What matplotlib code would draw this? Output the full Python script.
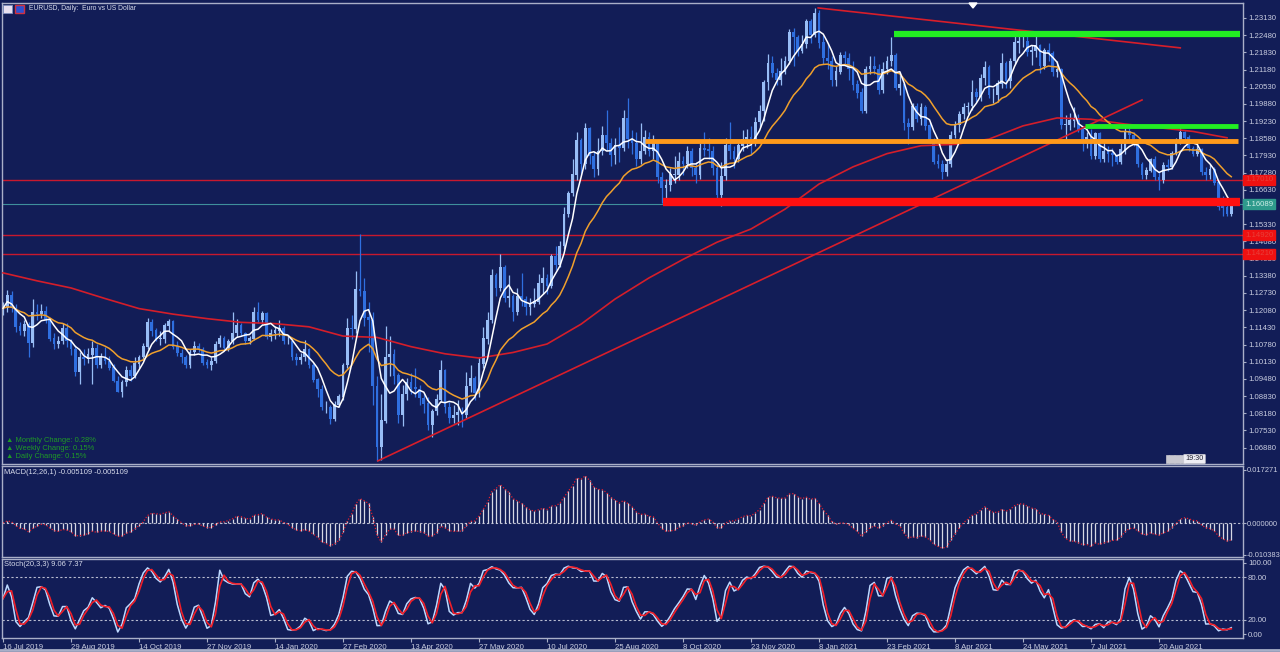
import matplotlib
matplotlib.use('Agg')
import matplotlib.pyplot as plt
import matplotlib.patches as mpatches
import numpy as np
import pandas as pd

plt.rcParams['font.family'] = ['Liberation Sans', 'DejaVu Sans']

# EURUSD daily chart, resampled to 2-day bars
close = [
    1.1215, 1.1265, 1.1215, 1.1145, 1.1130, 1.1155, 1.1085, 1.1200, 1.1195, 1.1205, 1.1170, 1.1100, 1.1080, 1.1090, 1.1140, 1.1090,
    1.1060, 1.0975, 1.1030, 1.1025, 1.1040, 1.1065, 1.1000, 1.1030, 1.1015, 1.0990, 1.0940, 1.0900, 1.0935, 1.0980, 1.0960, 1.1005,
    1.1030, 1.1070, 1.1160, 1.1130, 1.1100, 1.1100, 1.1150, 1.1165, 1.1070, 1.1045, 1.1030, 1.1000, 1.1050, 1.1070, 1.1060, 1.1010,
    1.1000, 1.1015, 1.1080, 1.1100, 1.1065, 1.1090, 1.1120, 1.1150, 1.1120, 1.1090, 1.1100, 1.1200, 1.1170, 1.1195, 1.1105, 1.1120,
    1.1130, 1.1140, 1.1090, 1.1090, 1.1030, 1.1020, 1.1030, 1.1060, 1.1000, 1.0945, 1.0910, 1.0840, 1.0840, 1.0795, 1.0850, 1.0880,
    1.1000, 1.1140, 1.1135, 1.1285, 1.1280, 1.1180, 1.1170, 1.0920, 1.0690, 1.0790, 1.1030, 1.1040, 1.0960, 1.0810, 1.0890, 1.0935,
    1.0915, 1.0910, 1.0875, 1.0855, 1.0775, 1.0825, 1.0870, 1.0980, 1.0840, 1.0800, 1.0810, 1.0820, 1.0810, 1.0920, 1.0950, 1.0895,
    1.1005, 1.1100, 1.1170, 1.1340, 1.1290, 1.1370, 1.1255, 1.1260, 1.1200, 1.1260, 1.1250, 1.1220, 1.1230, 1.1240, 1.1310, 1.1330,
    1.1300, 1.1410, 1.1380, 1.1450, 1.1570, 1.1650, 1.1720, 1.1850, 1.1760, 1.1895, 1.1790, 1.1740, 1.1810, 1.1870, 1.1840, 1.1795,
    1.1830, 1.1820, 1.1935, 1.1855, 1.1840, 1.1780, 1.1810, 1.1860, 1.1810, 1.1840, 1.1710, 1.1670, 1.1680, 1.1720, 1.1720, 1.1770,
    1.1760, 1.1810, 1.1745, 1.1720, 1.1820, 1.1815, 1.1810, 1.1745, 1.1645, 1.1715, 1.1830, 1.1810, 1.1780, 1.1830, 1.1855, 1.1860,
    1.1840, 1.1920, 1.1960, 1.2070, 1.2140, 1.2105, 1.2080, 1.2110, 1.2150, 1.2260, 1.2240, 1.2190, 1.2215, 1.2300, 1.2250, 1.2330,
    1.2220, 1.2160, 1.2150, 1.2080, 1.2110, 1.2170, 1.2160, 1.2120, 1.2060, 1.2030, 1.1960, 1.2120, 1.2130, 1.2120, 1.2040, 1.2120,
    1.2150, 1.2170, 1.2050, 1.2060, 1.1915, 1.1900, 1.1980, 1.1930, 1.1975, 1.1905, 1.1850, 1.1770, 1.1760, 1.1730, 1.1760, 1.1870,
    1.1910, 1.1950, 1.1975, 1.1980, 1.2030, 1.2015, 1.2085, 1.2125, 1.2020, 1.2020, 1.2065, 1.2140, 1.2075, 1.2150, 1.2220, 1.2225,
    1.2225, 1.2185, 1.2190, 1.2210, 1.2130, 1.2190, 1.2180, 1.2110, 1.2120, 1.1910, 1.1910, 1.1925, 1.1935, 1.1890, 1.1850, 1.1860,
    1.1790, 1.1875, 1.1780, 1.1810, 1.1800, 1.1795, 1.1770, 1.1815, 1.1885, 1.1870, 1.1835, 1.1760, 1.1720, 1.1735, 1.1780, 1.1710,
    1.1700, 1.1755, 1.1750, 1.1800, 1.1840, 1.1880, 1.1860, 1.1820, 1.1800, 1.1815, 1.1730, 1.1720, 1.1740, 1.1690, 1.1600, 1.1595, 1.1570, 1.1609,
]
high = [
    1.1240, 1.1285, 1.1280, 1.1230, 1.1165, 1.1170, 1.1165, 1.1250, 1.1230, 1.1230, 1.1225, 1.1180, 1.1120, 1.1110, 1.1160, 1.1160,
    1.1100, 1.1075, 1.1050, 1.1060, 1.1065, 1.1090, 1.1080, 1.1045, 1.1070, 1.1035, 1.1005, 1.0960, 1.0945, 1.0995, 1.1000, 1.1030,
    1.1040, 1.1085, 1.1180, 1.1175, 1.1140, 1.1130, 1.1160, 1.1175, 1.1170, 1.1090, 1.1060, 1.1040, 1.1060, 1.1090, 1.1085, 1.1070,
    1.1025, 1.1030, 1.1090, 1.1115, 1.1110, 1.1100, 1.1200, 1.1175, 1.1160, 1.1125, 1.1110, 1.1220, 1.1240, 1.1205, 1.1200, 1.1135,
    1.1150, 1.1170, 1.1150, 1.1115, 1.1100, 1.1045, 1.1045, 1.1095, 1.1065, 1.1010, 1.0950, 1.0925, 1.0865, 1.0850, 1.0865, 1.0890,
    1.1010, 1.1180, 1.1190, 1.1355, 1.1495, 1.1330, 1.1240, 1.1200, 1.0960, 1.0890, 1.1147, 1.1110, 1.1060, 1.0970, 1.0925, 1.0950,
    1.0970, 1.0990, 1.0925, 1.0895, 1.0880, 1.0835, 1.0890, 1.1019, 1.0985, 1.0860, 1.0850, 1.0870, 1.0840, 1.0975, 1.1000, 1.0960,
    1.1030, 1.1145, 1.1200, 1.1365, 1.1350, 1.1422, 1.1380, 1.1340, 1.1270, 1.1290, 1.1350, 1.1260, 1.1255, 1.1290, 1.1345, 1.1370,
    1.1345, 1.1420, 1.1450, 1.1470, 1.1600, 1.1660, 1.1780, 1.1880, 1.1860, 1.1915, 1.1900, 1.1810, 1.1860, 1.1905, 1.1965, 1.1860,
    1.1860, 1.1900, 1.1965, 1.2011, 1.1890, 1.1880, 1.1915, 1.1890, 1.1880, 1.1870, 1.1850, 1.1730, 1.1705, 1.1745, 1.1790, 1.1805,
    1.1790, 1.1830, 1.1820, 1.1770, 1.1840, 1.1880, 1.1860, 1.1830, 1.1760, 1.1770, 1.1860, 1.1920, 1.1830, 1.1840, 1.1890, 1.1895,
    1.1905, 1.1940, 1.1985, 1.2080, 1.2175, 1.2170, 1.2125, 1.2160, 1.2170, 1.2273, 1.2275, 1.2250, 1.2250, 1.2310, 1.2310, 1.2349,
    1.2345, 1.2250, 1.2220, 1.2170, 1.2130, 1.2185, 1.2190, 1.2180, 1.2150, 1.2080, 1.2050, 1.2130, 1.2170, 1.2170, 1.2140, 1.2145,
    1.2170, 1.2243, 1.2180, 1.2110, 1.2070, 1.1935, 1.1990, 1.1990, 1.1990, 1.1985, 1.1920, 1.1860, 1.1800, 1.1775, 1.1780, 1.1885,
    1.1925, 1.1960, 1.1990, 1.1995, 1.2080, 1.2050, 1.2100, 1.2150, 1.2135, 1.2050, 1.2080, 1.2180, 1.2150, 1.2160, 1.2245, 1.2250,
    1.2266, 1.2260, 1.2210, 1.2255, 1.2215, 1.2200, 1.2220, 1.2190, 1.2150, 1.2125, 1.1945, 1.1955, 1.1975, 1.1950, 1.1900, 1.1880,
    1.1895, 1.1880, 1.1880, 1.1850, 1.1830, 1.1820, 1.1800, 1.1840, 1.1909, 1.1900, 1.1880, 1.1850, 1.1770, 1.1750, 1.1785, 1.1790,
    1.1730, 1.1770, 1.1780, 1.1810, 1.1860, 1.1909, 1.1885, 1.1870, 1.1830, 1.1850, 1.1820, 1.1750, 1.1760, 1.1750, 1.1700, 1.1640, 1.1620, 1.1625,
]
low = [
    1.1190, 1.1200, 1.1200, 1.1125, 1.1115, 1.1110, 1.1030, 1.1070, 1.1170, 1.1180, 1.1160, 1.1090, 1.1060, 1.1065, 1.1080, 1.1070,
    1.1040, 1.0960, 1.0930, 1.1000, 1.1010, 1.0930, 1.0990, 1.0990, 1.1005, 1.0980, 1.0935, 1.0900, 1.0880, 1.0920, 1.0940, 1.0950,
    1.0990, 1.1020, 1.1060, 1.1110, 1.1090, 1.1075, 1.1085, 1.1130, 1.1060, 1.1035, 1.1010, 1.0990, 1.0990, 1.1040, 1.1050, 1.1000,
    1.0990, 1.0980, 1.1010, 1.1070, 1.1060, 1.1055, 1.1080, 1.1105, 1.1110, 1.1080, 1.1080, 1.1095, 1.1160, 1.1155, 1.1100, 1.1090,
    1.1100, 1.1110, 1.1080, 1.1080, 1.1020, 1.1000, 1.1005, 1.1015, 1.0990, 1.0935, 1.0880, 1.0830, 1.0820, 1.0778, 1.0790, 1.0840,
    1.0870, 1.0990, 1.1100, 1.1120, 1.1260, 1.1150, 1.1050, 1.0850, 1.0636, 1.0640, 1.0780, 1.0960, 1.0930, 1.0780, 1.0770, 1.0870,
    1.0890, 1.0880, 1.0850, 1.0820, 1.0755, 1.0727, 1.0810, 1.0860, 1.0820, 1.0780, 1.0780, 1.0775, 1.0766, 1.0800, 1.0900, 1.0870,
    1.0880, 1.0990, 1.1080, 1.1160, 1.1260, 1.1280, 1.1240, 1.1220, 1.1168, 1.1190, 1.1225, 1.1190, 1.1190, 1.1220, 1.1230, 1.1270,
    1.1270, 1.1290, 1.1360, 1.1370, 1.1440, 1.1560, 1.1640, 1.1700, 1.1720, 1.1740, 1.1760, 1.1710, 1.1720, 1.1795, 1.1810, 1.1755,
    1.1760, 1.1770, 1.1810, 1.1820, 1.1800, 1.1755, 1.1760, 1.1800, 1.1790, 1.1780, 1.1690, 1.1612, 1.1625, 1.1660, 1.1690, 1.1700,
    1.1720, 1.1745, 1.1715, 1.1690, 1.1705, 1.1790, 1.1780, 1.1720, 1.1620, 1.1603, 1.1700, 1.1780, 1.1745, 1.1770, 1.1810, 1.1820,
    1.1800, 1.1830, 1.1900, 1.1925, 1.2040, 1.2090, 1.2060, 1.2060, 1.2100, 1.2140, 1.2130, 1.2170, 1.2180, 1.2200, 1.2220, 1.2240,
    1.2200, 1.2140, 1.2120, 1.2055, 1.2055, 1.2100, 1.2140, 1.2080, 1.2040, 1.2010, 1.1952, 1.1955, 1.2100, 1.2100, 1.2025, 1.2030,
    1.2100, 1.2130, 1.2040, 1.2020, 1.1890, 1.1835, 1.1890, 1.1920, 1.1910, 1.1890, 1.1840, 1.1760, 1.1745, 1.1704, 1.1715, 1.1750,
    1.1860, 1.1880, 1.1930, 1.1950, 1.1965, 1.1995, 1.2000, 1.2060, 1.2010, 1.1990, 1.1995, 1.2050, 1.2050, 1.2050, 1.2140, 1.2180,
    1.2205, 1.2170, 1.2135, 1.2165, 1.2105, 1.2120, 1.2150, 1.2095, 1.2090, 1.1895, 1.1847, 1.1890, 1.1900, 1.1880, 1.1810, 1.1820,
    1.1780, 1.1780, 1.1770, 1.1770, 1.1770, 1.1755, 1.1760, 1.1760, 1.1800, 1.1850, 1.1830, 1.1750, 1.1705, 1.1705, 1.1730, 1.1700,
    1.1664, 1.1690, 1.1735, 1.1740, 1.1795, 1.1835, 1.1850, 1.1810, 1.1790, 1.1790, 1.1720, 1.1700, 1.1705, 1.1680, 1.1585, 1.1565, 1.1563, 1.1565,
]
first_open = 1.1200

# 200-day moving average, read every 8 bars
ma200_vals = [1.1349, 1.1319, 1.1292, 1.1252, 1.1214, 1.1193, 1.1176, 1.1162, 1.1157, 1.1145,
              1.1110, 1.1105, 1.1070, 1.1043, 1.1027, 1.1048, 1.1080, 1.1155, 1.1250, 1.1330,
              1.1400, 1.1465, 1.1515, 1.1590, 1.1685, 1.1750, 1.1800, 1.1830, 1.1835, 1.1855,
              1.1905, 1.1935, 1.1930, 1.1912, 1.1898, 1.1884, 1.1860]

date_labels = ['16 Jul 2019', '29 Aug 2019', '14 Oct 2019', '27 Nov 2019', '14 Jan 2020', '27 Feb 2020',
               '13 Apr 2020', '27 May 2020', '10 Jul 2020', '25 Aug 2020', '8 Oct 2020', '23 Nov 2020',
               '8 Jan 2021', '23 Feb 2021', '8 Apr 2021', '24 May 2021', '7 Jul 2021', '20 Aug 2021']
price_ticks = [1.23130 - 0.0065 * k for k in range(26)]

# drawn objects: (start bar, end bar, price)
thin_red_levels = [1.1701, 1.1492, 1.1421]
thin_red_tags = ['1.17010', '1.14920', '1.14210']
bid_price = 1.16089
thick_lines = [(155.3, 291.0, 1.1617, '#ff1010', 6),
               (151.0, 290.5, 1.1848, '#ff9a1a', 3.5),
               (209.6, 291.0, 1.2252, '#22ee22', 4.5),
               (254.6, 290.5, 1.1905, '#22ee22', 3.5)]
trend_lines = [(191.8, 1.2351, 277.0, 1.2200), (88.2, 1.0638, 268.0, 1.2003)]

BG = '#121d57'
FG = '#c9cde0'
FRAME = '#a9afc8'
W, H = 1280, 652

o = np.r_[first_open, close[:-1]]
c = np.array(close)
hi = np.array(high)
lo = np.array(low)
n = len(c)
idx = np.arange(n)
s = pd.Series(c)
ma_fast = s.rolling(5, min_periods=1).mean()
ma_slow = s.ewm(span=18, adjust=False).mean()
ema_a = s.ewm(span=6, adjust=False).mean()
ema_b = s.ewm(span=13, adjust=False).mean()
macd = (ema_a - ema_b).values
hh = pd.Series(hi).rolling(10, min_periods=1).max()
ll = pd.Series(lo).rolling(10, min_periods=1).min()
k_line = 100 * (s - ll).rolling(2, min_periods=1).sum() / (hh - ll).rolling(2, min_periods=1).sum()
d_line = k_line.rolling(2, min_periods=1).mean()

fig = plt.figure(figsize=(W / 100, H / 100), dpi=100, facecolor=BG)


def px_axes(x0, y0, x1, y1):
    return fig.add_axes([x0 / W, 1 - y1 / H, (x1 - x0) / W, (y1 - y0) / H])


main = px_axes(2, 3, 1243, 464)
mac = px_axes(2, 466, 1243, 557)
sto = px_axes(2, 559, 1243, 638)
XL = (-0.24, 291.76)

for ax in (main, mac, sto):
    ax.set_facecolor(BG)
    ax.set_xlim(*XL)
    for sp in ax.spines.values():
        sp.set_color(FRAME)
        sp.set_linewidth(1)
    ax.yaxis.tick_right()
    ax.tick_params(axis='y', colors=FRAME, labelcolor=FG, labelsize=5.6, length=2.5, pad=1, width=0.8)
    ax.tick_params(axis='x', bottom=False, labelbottom=False)

# --- main price panel
main.set_ylim(1.06262, 1.23697)
main.set_yticks(price_ticks)
main.set_yticklabels([f'{p:.5f}' for p in price_ticks])

for lvl in thin_red_levels:
    main.axhline(lvl, color='#c8182e', lw=1, zorder=1)
main.axhline(bid_price, color='#3f8f9c', lw=0.8, zorder=1)

up = c >= o
col = np.where(up, '#98bdf6', '#2f6fe0')
main.vlines(idx, lo, hi, colors=col, lw=0.9, zorder=2)
main.bar(idx, np.abs(c - o) + 0.00015, 0.6, bottom=np.minimum(o, c), color=col, lw=0, zorder=2)

main.plot(range(0, n, 8), ma200_vals, color='#d41e2a', lw=1.2, zorder=3)
main.plot(idx, ma_slow, color='#f0a02c', lw=1.1, zorder=3)
main.plot(idx, ma_fast, color='white', lw=1.1, zorder=3)

for x0, y0, x1, y1 in trend_lines:
    main.plot([x0, x1], [y0, y1], color='#d81e2a', lw=1.2, zorder=3)
for x0, x1, lvl, colr, lw in thick_lines:
    main.plot([x0, x1], [lvl, lvl], color=colr, lw=lw, solid_capstyle='butt', zorder=4)

for lvl, tag in zip(thin_red_levels, thin_red_tags):
    main.text(1.0015, lvl, tag, transform=main.get_yaxis_transform(), fontsize=5.6, color='#e8403a',
              va='center', ha='left', clip_on=False, zorder=6,
              bbox=dict(boxstyle='square,pad=0.2', fc='#ee1111', ec='#ee1111'))
main.text(1.0015, bid_price, f'{bid_price:.5f}', transform=main.get_yaxis_transform(), fontsize=5.6,
          color='#cfeee8', va='center', ha='left', clip_on=False, zorder=6,
          bbox=dict(boxstyle='square,pad=0.2', fc='#2e9a8c', ec='#2e9a8c'))

main.text(27 / 1241, 1 - 6 / 461, 'EURUSD, Daily:  Euro vs US Dollar', transform=main.transAxes,
          fontsize=4.9, color='#d8dcec', va='center', ha='left')
stats = ['Monthly Change: 0.28%', 'Weekly Change: 0.15%', 'Daily Change: 0.15%']
for k, t in enumerate(stats):
    main.text(4 / 1241, (464 - 440 - 8.3 * k) / 461, '\u25b2 ' + t, transform=main.transAxes,
              fontsize=5.4, color='#1f9a26', va='center', ha='left')

# icons and small widgets in figure pixels
fig.patches.append(mpatches.Rectangle((3 / W, 1 - 13 / H), 9 / W, 8 / H, transform=fig.transFigure,
                                      fc='#e8e0f0', ec='#8090c0', lw=0.6))
fig.patches.append(mpatches.Rectangle((15 / W, 1 - 13 / H), 9 / W, 8 / H, transform=fig.transFigure,
                                      fc='#3050d0', ec='#d03040', lw=1))
fig.patches.append(mpatches.Rectangle((1166 / W, 1 - 463 / H), 19 / W, 8 / H, transform=fig.transFigure,
                                      fc='#c8c8d0', ec='#c8c8d0', hatch='|||', lw=0.5))
fig.patches.append(mpatches.FancyBboxPatch((1185 / W, 1 - 463 / H), 19 / W, 8 / H, transform=fig.transFigure,
                                           boxstyle='round,pad=0.001', fc='#eeeef4', ec='#c8c8d0', lw=0.5))
fig.text(1195 / W, 1 - 459 / H, '19:30', fontsize=5.2, color='#202030', ha='center', va='center')
fig.patches.append(mpatches.Polygon([(969 / W, 1 - 3 / H), (977 / W, 1 - 3 / H), (973 / W, 1 - 8 / H)],
                                    closed=True, transform=fig.transFigure, fc='white', ec='white'))

# --- MACD panel
mac.set_ylim(-0.011034, 0.018572)
mac.set_yticks([0.017271, 0.0, -0.010383])
mac.set_yticklabels(['0.017271', '0.000000', '-0.010383'])
mac.tick_params(axis='y', labelsize=5.4, pad=0.5)
mac.axhline(0, color='#b8bcd0', lw=0.8, ls=(0, (2, 2)))
mac.vlines(idx, 0, macd, colors='#d6d8e4', lw=0.9)
mac.plot(idx, macd, color='#e02030', lw=0.9, ls=(0, (1, 1.5)))
mac.text(2 / 1241, 1 - 6 / 91, 'MACD(12,26,1) -0.005109 -0.005109', transform=mac.transAxes,
         fontsize=5.4, color='#d8dcec', va='center', ha='left')

# --- Stochastic panel
sto.set_ylim(-5.6, 105.6)
sto.set_yticks([100, 80, 20, 0])
sto.set_yticklabels(['100.00', '80.00', '20.00', '0.00'])
for lvl in (80, 20):
    sto.axhline(lvl, color='#b8bcd0', lw=0.8, ls=(0, (2, 2)))
sto.plot(idx, k_line, color='#bcd8ff', lw=1.1)
sto.plot(idx, d_line, color='#f01e28', lw=1.2)
sto.text(2 / 1241, 1 - 6 / 79, 'Stoch(20,3,3) 9.06 7.37', transform=sto.transAxes,
         fontsize=5.4, color='#d8dcec', va='center', ha='left')
sto.set_xticks(range(0, 16 * len(date_labels), 16))
sto.set_xticklabels(date_labels)
sto.tick_params(axis='x', bottom=True, labelbottom=True, colors=FRAME, labelcolor=FG,
                labelsize=5.6, length=3, pad=1.5, width=0.8)
for lab in sto.get_xticklabels():
    lab.set_ha('left')

fig.add_artist(plt.Line2D([0, 1], [1 - 650 / H, 1 - 650 / H], transform=fig.transFigure, color=FRAME, lw=2))

fig.savefig('out.png', dpi=100, facecolor=BG)
